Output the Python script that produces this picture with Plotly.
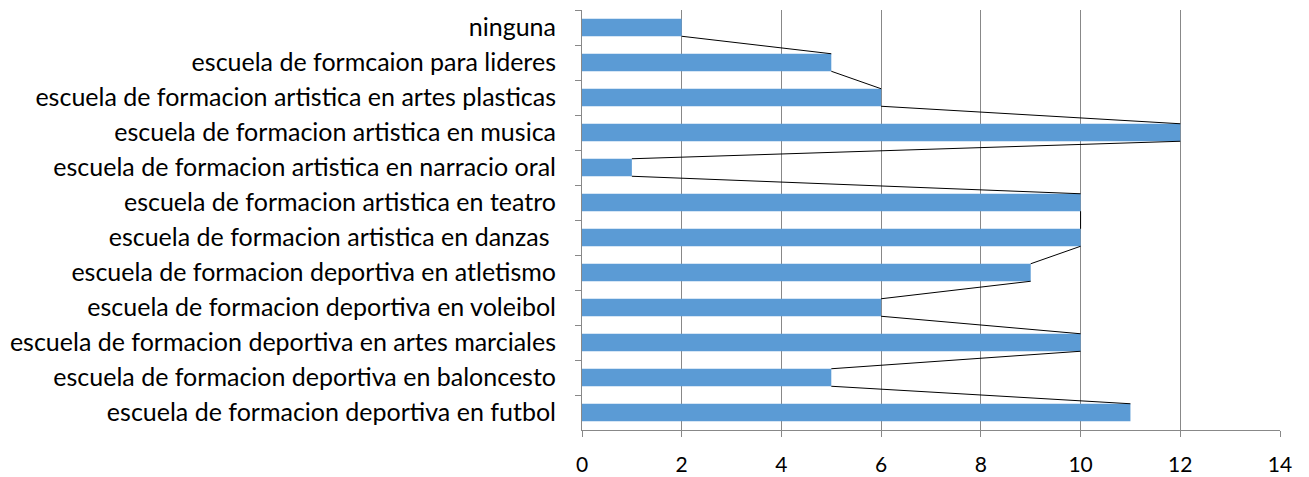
import plotly.graph_objects as go

categories = [
    "escuela de formacion deportiva en futbol",
    "escuela de formacion deportiva en baloncesto",
    "escuela de formacion deportiva en artes marciales",
    "escuela de formacion deportiva en voleibol",
    "escuela de formacion deportiva en atletismo",
    "escuela de formacion artistica en danzas ",
    "escuela de formacion artistica en teatro",
    "escuela de formacion artistica en narracio oral",
    "escuela de formacion artistica en musica",
    "escuela de formacion artistica en artes plasticas",
    "escuela de formcaion para lideres",
    "ninguna",
]
values = [11, 5, 10, 6, 9, 10, 10, 1, 12, 6, 5, 2]
x_ticks = [0, 2, 4, 6, 8, 10, 12, 14]

BAR_W = 0.5
pos = list(range(len(categories)))

fig = go.Figure()
fig.add_trace(go.Bar(
    x=values, y=pos, orientation="h", width=BAR_W,
    marker=dict(color="#5B9BD5", line=dict(width=0)),
    showlegend=False,
))

# series lines: bottom of upper bar end to top of lower bar end
for i in range(len(values) - 1):
    fig.add_trace(go.Scatter(
        x=[values[i + 1], values[i]],
        y=[pos[i + 1] - BAR_W / 2, pos[i] + BAR_W / 2],
        mode="lines", line=dict(color="black", width=1),
        showlegend=False, hoverinfo="skip",
    ))

fig.update_layout(
    width=1309, height=477,
    margin=dict(l=571, r=37, t=2, b=55),
    paper_bgcolor="white", plot_bgcolor="white",
    font=dict(family="Lato", size=25, color="black"),
)
fig.update_xaxes(
    range=[0, 14], tickvals=x_ticks, showgrid=True, gridcolor="#888888", gridwidth=1,
    showline=True, linecolor="#888888", ticks="outside", ticklen=6, tickcolor="#888888",
    zeroline=False, tickfont=dict(size=21), ticklabelstandoff=10,
)
fig.update_yaxes(
    range=[-0.5, len(categories) - 0.5], tickvals=pos, ticktext=categories,
    showgrid=False, zeroline=False, showline=True, linecolor="#888888",
    ticks="", ticklabelstandoff=20,
    minor=dict(tickvals=[p + 0.5 for p in pos], ticks="outside", ticklen=6,
               tickcolor="#888888", showgrid=False),
)

fig.write_html("out.html")
